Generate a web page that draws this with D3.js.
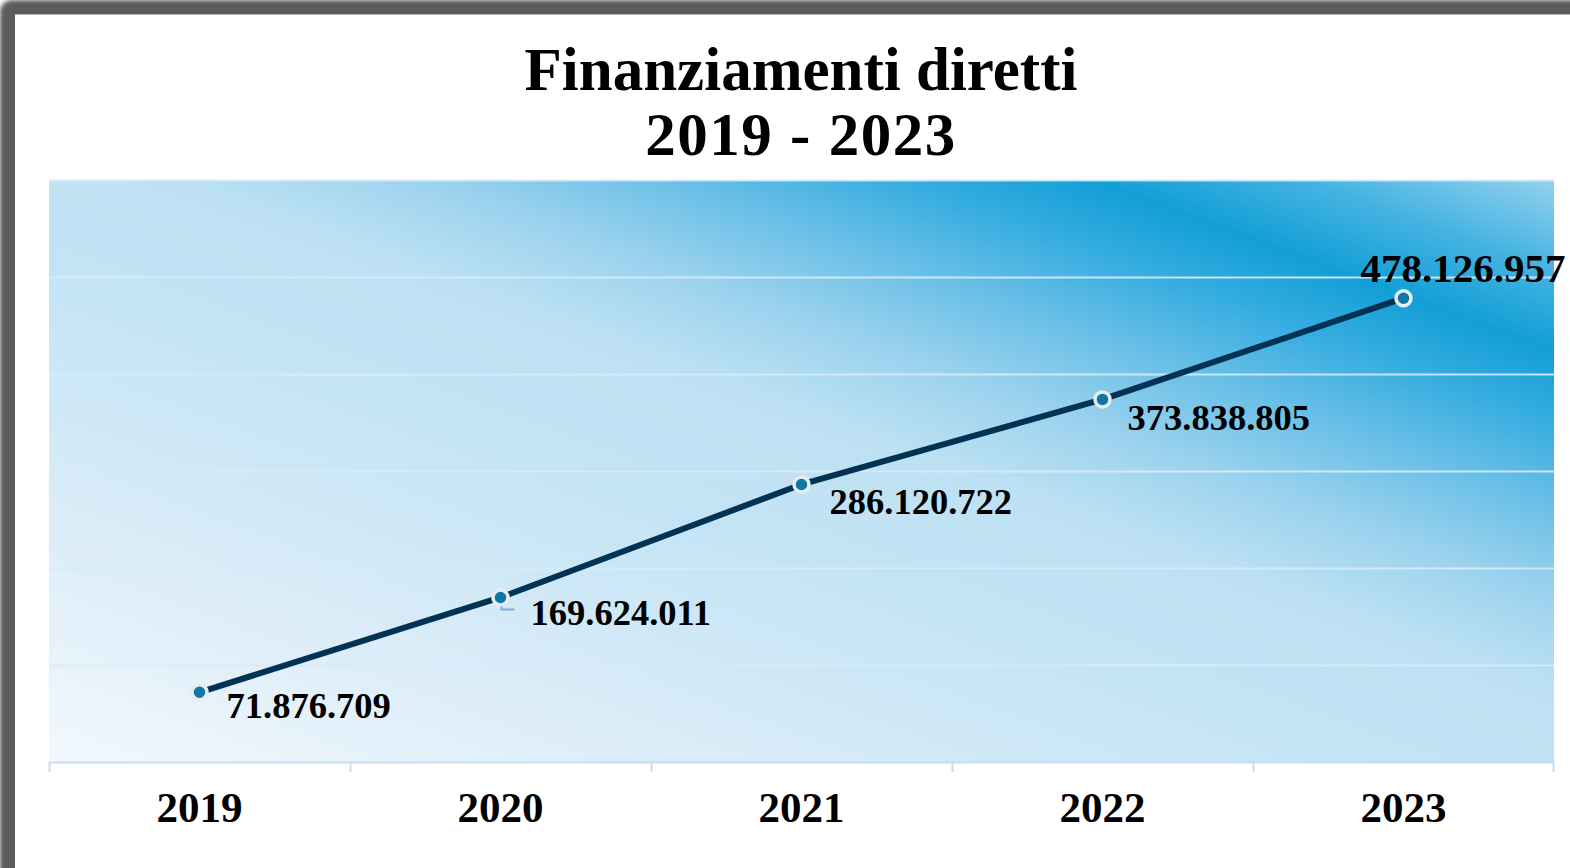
<!DOCTYPE html>
<html>
<head>
<meta charset="utf-8">
<script src="https://cdn.jsdelivr.net/npm/d3@7"></script>
<style>
html,body{margin:0;padding:0;background:#fff;overflow:hidden;}
svg{display:block;}
text{font-family:"Liberation Serif","DejaVu Serif",serif;font-weight:bold;fill:#000;}
</style>
</head>
<body>
<svg id="chart" width="1570" height="868"></svg>
<script>
// ---- data ----
const titleLines = ["Finanziamenti diretti", "2019 - 2023"];
const years = ["2019", "2020", "2021", "2022", "2023"];
const values = [71876709, 169624011, 286120722, 373838805, 478126957];
const yMax = 600000000;
const yTickStep = 100000000;

// ---- layout ----
const W = 1570, H = 868;
const plot = {left: 49, right: 1554, top: 180, bottom: 762};

const svg = d3.select("#chart");
const defs = svg.append("defs");

// frame
const blur = defs.append("filter").attr("id", "blur")
  .attr("x", "-5%").attr("y", "-5%").attr("width", "110%").attr("height", "110%");
blur.append("feGaussianBlur").attr("stdDeviation", 2.2);
svg.append("rect").attr("x", 0).attr("y", 0).attr("width", W + 40).attr("height", H + 40)
  .attr("rx", 12).attr("fill", "#5b5b5b").attr("filter", "url(#blur)");
svg.append("rect").attr("x", 15).attr("y", 14).attr("width", W).attr("height", H)
  .attr("fill", "#ffffff");
svg.append("line").attr("x1", 15).attr("x2", W).attr("y1", 14.5).attr("y2", 14.5)
  .attr("stroke", "#b4b4b4").attr("stroke-width", 1);

// scales
const x = d3.scaleBand().domain(years).range([plot.left, plot.right]).padding(0);
const y = d3.scaleLinear().domain([0, yMax]).range([plot.bottom, plot.top]);
const cx = d => x(d) + x.bandwidth() / 2;

// background gradient (direction perpendicular to the deep band)
const nx = 172, ny = -464, nl = Math.hypot(nx, ny);
const vx = plot.right - plot.left, vy = plot.top - plot.bottom;
const proj = (vx * nx + vy * ny) / nl;
const grad = defs.append("linearGradient").attr("id", "bg")
  .attr("gradientUnits", "userSpaceOnUse")
  .attr("x1", plot.left).attr("y1", plot.bottom)
  .attr("x2", plot.left + proj * nx / nl).attr("y2", plot.bottom + proj * ny / nl);
[[0, "#f2f8fd"], [0.2, "#dcedf8"], [0.42, "#c4e4f5"], [0.55, "#bde1f3"],
 [0.63, "#9dd3ee"], [0.71, "#6cc0e7"], [0.79, "#34ace0"], [0.85, "#129fd6"],
 [0.92, "#45b3e2"], [1, "#95d1ed"]]
  .forEach(([o, c]) => grad.append("stop").attr("offset", o).attr("stop-color", c));

svg.append("rect").attr("x", plot.left).attr("y", plot.top)
  .attr("width", plot.right - plot.left).attr("height", plot.bottom - plot.top)
  .attr("fill", "url(#bg)");

// gridlines
const gridVals = d3.range(yTickStep, yMax + 1, yTickStep);
svg.append("g").selectAll("line").data(gridVals).join("line")
  .attr("x1", plot.left).attr("x2", plot.right)
  .attr("y1", d => Math.round(y(d)) + 0.5).attr("y2", d => Math.round(y(d)) + 0.5)
  .attr("stroke", "#d6ebf8").attr("stroke-opacity", 0.9).attr("stroke-width", 2);

// x axis
const xAxis = d3.axisBottom(x).tickSize(0).tickFormat(d => d);
const gx = svg.append("g").attr("transform", `translate(0,${plot.bottom})`).call(xAxis);
gx.select(".domain").attr("stroke", "#c6ddf2").attr("stroke-width", 2);
gx.selectAll(".tick text")
  .attr("y", 60).attr("dy", 0)
  .style("font-size", "43px").style("font-family", "'Liberation Serif',serif")
  .style("font-weight", "bold").attr("fill", "#000");
// tick marks at band boundaries
const bounds = years.map(d => x(d)).concat([plot.right - 1]);
svg.append("g").selectAll("line").data(bounds).join("line")
  .attr("x1", d => d + 0.5).attr("x2", d => d + 0.5)
  .attr("y1", plot.bottom).attr("y2", plot.bottom + 10)
  .attr("stroke", "#c6ddf2").attr("stroke-width", 2);

// line
const pts = years.map((d, i) => ({year: d, v: values[i]}));
svg.append("path").datum(pts)
  .attr("d", d3.line().x(d => cx(d.year)).y(d => y(d.v)))
  .attr("fill", "none").attr("stroke", "#003254").attr("stroke-width", 6)
  .attr("stroke-linejoin", "round");

// leader line for 2020 label
const p20 = pts[1];
svg.append("path")
  .attr("d", `M${cx(p20.year) + 1},${y(p20.v)} V${y(p20.v) + 12} H${cx(p20.year) + 14}`)
  .attr("fill", "none").attr("stroke", "#7aaee0").attr("stroke-width", 2);

// markers
svg.append("g").selectAll("circle").data(pts).join("circle")
  .attr("cx", d => cx(d.year)).attr("cy", d => y(d.v)).attr("r", 7.5)
  .attr("fill", "#0e77a3").attr("stroke", "#e8ecef").attr("stroke-width", 3.5);

// data labels
const itFmt = d3.formatLocale({decimal: ",", thousands: ".", grouping: [3], currency: ["€", ""]}).format(",");
const labelPlace = [
  {dx: 27, dy: 26, size: 36.5, anchor: "start"},
  {dx: 30, dy: 28, size: 36.5, anchor: "start"},
  {dx: 28, dy: 30, size: 36.5, anchor: "start"},
  {dx: 25, dy: 31, size: 36.5, anchor: "start"},
  {dx: -43, dy: -16, size: 41, anchor: "start"}
];
svg.append("g").selectAll("text").data(pts).join("text")
  .attr("x", (d, i) => cx(d.year) + labelPlace[i].dx)
  .attr("y", (d, i) => y(d.v) + labelPlace[i].dy)
  .attr("text-anchor", (d, i) => labelPlace[i].anchor)
  .style("font-size", (d, i) => labelPlace[i].size + "px")
  .text(d => itFmt(d.v));

// title
svg.append("g").selectAll("text").data(titleLines).join("text")
  .attr("x", 801).attr("y", (d, i) => 90 + i * 65)
  .attr("text-anchor", "middle")
  .style("font-size", "61px")
  .style("letter-spacing", (d, i) => i === 1 ? "1.5px" : "0px")
  .text(d => d);
</script>
</body>
</html>
